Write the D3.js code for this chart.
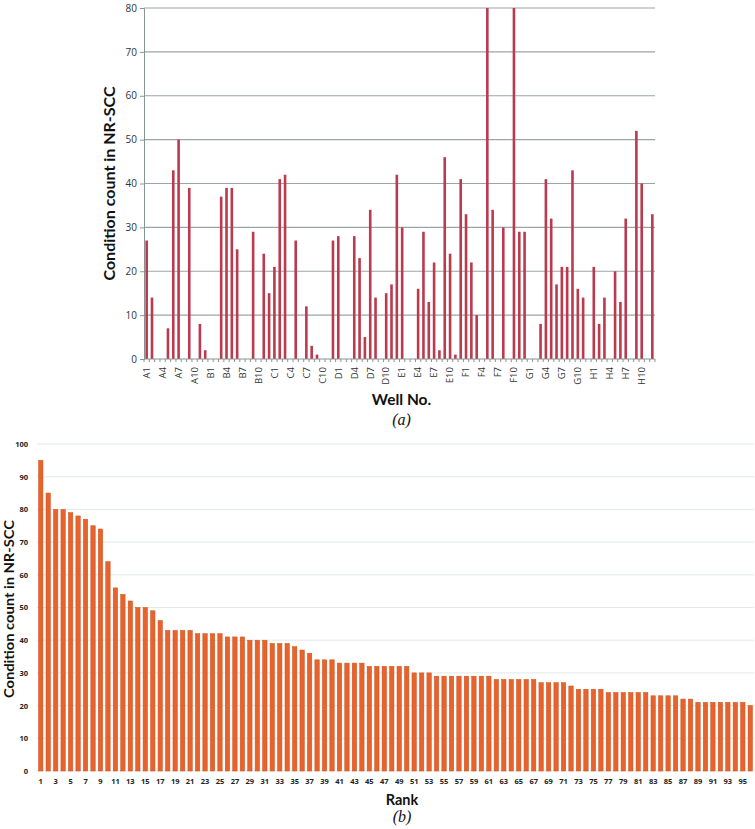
<!DOCTYPE html>
<html><head><meta charset="utf-8">
<script src="https://cdn.jsdelivr.net/npm/d3@7"></script>
<style>
body{margin:0;background:#fff;}
svg{display:block;}
</style></head>
<body>
<svg id="chart" width="755" height="829"></svg>
<script>
// ---- Panel (a) data ----
const rows = ["A","B","C","D","E","F","G","H"];
const wells = rows.flatMap(r => d3.range(1,13).map(c => r + c));
const wellCountsA = [27,14,0,0,7,43,50,0,39,0,8,2];
const wellCountsB = [0,0,37,39,39,25,0,0,29,0,24,15];
const wellCountsC = [21,41,42,0,27,0,12,3,1,0,0,27];
const wellCountsD = [28,0,0,28,23,5,34,14,0,15,17,42];
const wellCountsE = [30,0,0,16,29,13,22,2,46,24,1,41];
const wellCountsF = [33,22,10,0,80,34,0,30,0,80,29,29];
const wellCountsG = [0,0,8,41,32,17,21,21,43,16,14,0];
const wellCountsH = [21,8,14,0,20,13,32,0,52,40,0,33];
const wellCounts = [].concat(wellCountsA,wellCountsB,wellCountsC,wellCountsD,wellCountsE,wellCountsF,wellCountsG,wellCountsH);
const yTicksA = [0,10,20,30,40,50,60,70,80];

// ---- Panel (b) data ----
const rankedCounts = [95,85,80,80,79,78,77,75,74,64,
  56,54,52,50,50,49,46,43,43,43,
  43,42,42,42,42,41,41,41,40,40,
  40,39,39,39,38,37,36,34,34,34,
  33,33,33,33,32,32,32,32,32,32,
  30,30,30,29,29,29,29,29,29,29,
  29,28,28,28,28,28,28,27,27,27,
  27,26,25,25,25,25,24,24,24,24,
  24,24,23,23,23,23,22,22,21,21,
  21,21,21,21,21,20];
const ranks = d3.range(1, rankedCounts.length + 1);
const yTicksB = [0,10,20,30,40,50,60,70,80,90,100];

const svg = d3.select("#chart");
const sans = "'Open Sans', 'DejaVu Sans', sans-serif";
const titleFont = "Lato, 'Open Sans', sans-serif";
const serif = "'Liberation Serif', 'DejaVu Serif', serif";

// ================= Panel (a) =================
{
  const L = 144, R = 655, T = 8, B = 359;
  const x = d3.scaleBand().domain(wells).range([L, R]).padding(0);
  const y = d3.scaleLinear().domain([0, 80]).range([B, T]);
  const g = svg.append("g");

  g.selectAll("line.grid").data(yTicksA.filter(d => d > 0)).join("line")
    .attr("x1", L).attr("x2", R)
    .attr("y1", d => y(d)).attr("y2", d => y(d))
    .attr("stroke", "#9aa6a6").attr("stroke-width", 1.1);

  const ya = d3.axisLeft(y).tickValues(yTicksA).tickSize(4).tickPadding(3);
  const yg = g.append("g").attr("transform", `translate(${L},0)`).call(ya);
  yg.select(".domain").attr("stroke", "#8a9494");
  yg.selectAll(".tick line").attr("stroke", "#8a9494");
  yg.selectAll("text").attr("font-family", sans).attr("font-size", 10).attr("fill", "#333");

  const bw = 2.6;
  g.selectAll("rect.bar").data(wellCounts).join("rect")
    .attr("x", (d, i) => x(wells[i]) + x.bandwidth() / 2 - bw / 2)
    .attr("width", bw)
    .attr("y", d => y(d))
    .attr("height", d => B - y(d))
    .attr("fill", "#bb3a4e");

  g.append("line").attr("x1", L).attr("x2", R).attr("y1", B).attr("y2", B)
    .attr("stroke", "#8a9494").attr("stroke-width", 1);
  g.selectAll("line.bt").data(d3.range(wells.length + 1)).join("line")
    .attr("x1", i => L + i * x.step()).attr("x2", i => L + i * x.step())
    .attr("y1", B).attr("y2", B + 3)
    .attr("stroke", "#8a9494").attr("stroke-width", 1);

  const labelWells = wells.filter((w, i) => i % 3 === 0);
  g.selectAll("text.xl").data(labelWells).join("text")
    .attr("transform", d => `translate(${x(d) + x.bandwidth() / 2 + 3.3},${B + 8}) rotate(-90)`)
    .attr("text-anchor", "end")
    .attr("font-family", sans).attr("font-size", 9.5).attr("fill", "#333")
    .text(d => d);

  g.append("text")
    .attr("transform", `translate(115,${(T + B) / 2}) rotate(-90)`)
    .attr("text-anchor", "middle")
    .attr("textLength", 194).attr("lengthAdjust", "spacingAndGlyphs")
    .attr("font-family", titleFont).attr("font-weight", "bold").attr("font-size", 15.5).attr("fill", "#111")
    .text("Condition count in NR-SCC");
  g.append("text").attr("x", (L + R) / 2 + 2).attr("y", 405).attr("text-anchor", "middle")
    .attr("font-family", titleFont).attr("font-weight", "bold").attr("font-size", 15.5).attr("fill", "#111")
    .text("Well No.");
  g.append("text").attr("x", (L + R) / 2 + 2).attr("y", 425).attr("text-anchor", "middle")
    .attr("font-family", serif).attr("font-style", "italic").attr("font-size", 16).attr("fill", "#111")
    .text("(a)");
}

// ================= Panel (b) =================
{
  const L = 37, R = 754, T = 444, B = 771;
  const x = d3.scaleBand().domain(ranks).range([L, R]).padding(0);
  const y = d3.scaleLinear().domain([0, 100]).range([B, T]);
  const g = svg.append("g");

  g.selectAll("line.grid").data(yTicksB).join("line")
    .attr("x1", L).attr("x2", R)
    .attr("y1", d => y(d)).attr("y2", d => y(d))
    .attr("stroke", "#e2e8e8").attr("stroke-width", 1);

  const ya = d3.axisLeft(y).tickValues(yTicksB).tickSize(0).tickPadding(9);
  const yg = g.append("g").attr("transform", `translate(${L},0)`).call(ya);
  yg.select(".domain").remove();
  yg.selectAll("text").attr("font-family", sans).attr("font-weight", "bold")
    .attr("font-size", 7.5).attr("fill", "#222");

  const bw = 4.4;
  g.selectAll("rect.bar").data(rankedCounts).join("rect")
    .attr("x", (d, i) => x(ranks[i]) + x.bandwidth() / 2 - bw / 2)
    .attr("width", bw)
    .attr("y", d => y(d))
    .attr("height", d => B - y(d))
    .attr("fill", "#e8632b")
    .attr("stroke", "#c9501f").attr("stroke-width", 0.5);

  const xa = d3.axisBottom(x).tickValues(ranks.filter(r => r % 2 === 1)).tickSize(0).tickPadding(8);
  const xg = g.append("g").attr("transform", `translate(0,${B})`).call(xa);
  xg.select(".domain").remove();
  xg.selectAll("text").attr("font-family", sans).attr("font-weight", "bold")
    .attr("font-size", 7.5).attr("fill", "#222");

  g.append("text")
    .attr("transform", `translate(14,609) rotate(-90)`)
    .attr("text-anchor", "middle")
    .attr("textLength", 178).attr("lengthAdjust", "spacingAndGlyphs")
    .attr("font-family", titleFont).attr("font-weight", "bold").attr("font-size", 13.5).attr("fill", "#111")
    .text("Condition count in NR-SCC");
  g.append("text").attr("x", 402).attr("y", 805).attr("text-anchor", "middle")
    .attr("font-family", titleFont).attr("font-weight", "bold").attr("font-size", 14.5).attr("fill", "#111")
    .text("Rank");
  g.append("text").attr("x", 402).attr("y", 822).attr("text-anchor", "middle")
    .attr("font-family", serif).attr("font-style", "italic").attr("font-size", 16).attr("fill", "#111")
    .text("(b)");
}
</script>
</body></html>
